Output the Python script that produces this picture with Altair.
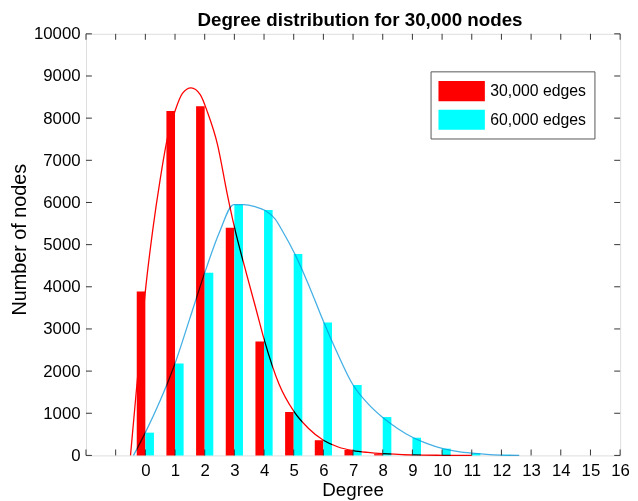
import altair as alt
import pandas as pd

# ---- data ----
degrees_30k = list(range(0, 10))
counts_30k = [3890, 8170, 8280, 5400, 2700, 1030, 360, 130, 30, 5]
degrees_60k = list(range(0, 13))
counts_60k = [540, 2180, 4330, 5950, 5820, 4780, 3150, 1670, 910, 420, 160, 50, 15]

fit30_x = [-0.5, -0.25, 0, 0.25, 0.5, 0.75, 1.0, 1.25, 1.54, 1.85, 2.1, 2.43, 2.76, 3.0,
           3.4, 3.7, 4.0, 4.5, 5.0, 5.5, 6.0, 6.5, 7.0, 7.5, 8.0, 9.0, 10.0, 11.0]
fit30_y = [0, 1950, 3890, 5350, 6550, 7550, 8170, 8590, 8720, 8560, 8130, 7380, 6200, 5420,
           4330, 3550, 2760, 1700, 1050, 640, 360, 200, 115, 70, 40, 12, 3, 0]

fit60_x = [-0.4, 0, 0.5, 1.0, 1.5, 2.0, 2.5, 2.98, 3.32, 3.7, 4.04, 4.37, 4.64, 5.03, 5.5,
           6.0, 6.5, 7.0, 7.5, 8.0, 8.5, 9.0, 9.5, 10.0, 10.5, 11.0, 11.5, 12.0, 12.6]
fit60_y = [0, 540, 1300, 2180, 3250, 4330, 5300, 5950, 5950, 5900, 5808, 5610, 5300, 4790, 4050,
           3180, 2380, 1670, 1230, 900, 640, 430, 280, 165, 95, 52, 25, 8, 0]

series_names = ["30,000 edges", "60,000 edges"]
series_colors = ["#ff0000", "#00ffff"]

x_ticks = list(range(-2, 17))
y_ticks = list(range(0, 10001, 1000))

# ---- tables ----
bars = pd.DataFrame({
    "degree": degrees_30k + degrees_60k,
    "count": counts_30k + counts_60k,
    "series": [series_names[0]] * len(degrees_30k) + [series_names[1]] * len(degrees_60k),
})
fit30 = pd.DataFrame({"degree": fit30_x, "count": fit30_y})
fit60 = pd.DataFrame({"degree": fit60_x, "count": fit60_y})
xt = pd.DataFrame({"t": x_ticks})
yt = pd.DataFrame({"t": y_ticks})

W, H = 541, 427
FONT = "Liberation Sans"

x_scale = alt.Scale(domain=[-2, 16], nice=False, zero=False)
y_scale = alt.Scale(domain=[0, 10000], nice=False)

x_axis = alt.Axis(values=x_ticks, format="d", labelExpr="datum.value < 0 ? '' : datum.label",
                  ticks=False, domain=False, grid=False, labelPadding=20, labelBaseline="alphabetic",
                  labelFontSize=17, labelFont=FONT, labelColor="black", labelFlush=False,
                  title="Degree", titleFontSize=19, titleFont=FONT, titleFontWeight="normal",
                  titleColor="black", titleBaseline="alphabetic", titleY=40.5, titleX=270)
y_axis = alt.Axis(values=y_ticks, format="d", ticks=False, domain=False, grid=False,
                  labelPadding=6, labelFontSize=17, labelFont=FONT, labelColor="black",
                  labelFlush=False,
                  title="Number of nodes", titleFontSize=20, titleFont=FONT,
                  titleFontWeight="normal", titleColor="black", titleBaseline="alphabetic",
                  titleX=-61, titleY=208, titleAngle=270)

X = alt.X("degree:Q", scale=x_scale, axis=x_axis)
Y = alt.Y("count:Q", scale=y_scale, axis=y_axis)

bar_layer = alt.Chart(bars).transform_calculate(
    x0=f"datum.series == '{series_names[0]}' ? datum.degree - 0.29 : datum.degree",
    x1=f"datum.series == '{series_names[0]}' ? datum.degree : datum.degree + 0.29",
).mark_bar().encode(
    x=alt.X("x0:Q", scale=x_scale, axis=x_axis),
    x2="x1:Q",
    y=Y,
    y2=alt.datum(0),
    color=alt.Color("series:N", scale=alt.Scale(domain=series_names, range=series_colors),
                    legend=alt.Legend(title=None, orient="none", legendX=349, legendY=38,
                                      symbolType="M-2,-0.87H2V0.87H-2Z", symbolSize=552,
                                      symbolStrokeWidth=0, symbolOffset=11.5, labelOffset=17,
                                      labelFontSize=16, labelFont=FONT, labelColor="black",
                                      padding=8, strokeColor="#555555", fillColor="white",
                                      rowPadding=6)),
)

line30 = alt.Chart(fit30).mark_line(color="#ff0000", strokeWidth=1.3, interpolate="monotone",
                                    blend="multiply").encode(x=X, y=Y)
line60 = alt.Chart(fit60).mark_line(color="#45b0e5", strokeWidth=1.3, interpolate="monotone",
                                    blend="multiply").encode(x=X, y=Y)

TICK = "#333333"
tb = alt.Chart(xt).mark_rule(color=TICK, strokeWidth=1).encode(
    x=alt.X("t:Q", scale=x_scale, axis=x_axis), y=alt.value(H), y2=alt.value(H - 6))
tt = alt.Chart(xt).mark_rule(color=TICK, strokeWidth=1).encode(
    x=alt.X("t:Q", scale=x_scale, axis=x_axis), y=alt.value(0), y2=alt.value(6))
tl = alt.Chart(yt).mark_rule(color=TICK, strokeWidth=1).encode(
    y=alt.Y("t:Q", scale=y_scale, axis=y_axis), x=alt.value(0), x2=alt.value(6))
tr = alt.Chart(yt).mark_rule(color=TICK, strokeWidth=1).encode(
    y=alt.Y("t:Q", scale=y_scale, axis=y_axis), x=alt.value(W), x2=alt.value(W - 6))

chart = alt.layer(bar_layer, line30, line60, tb, tt, tl, tr).properties(
    width=W, height=H,
    title=alt.TitleParams("Degree distribution for 30,000 nodes", fontSize=19, font=FONT,
                          fontWeight="bold", color="black", anchor="middle", offset=1,
                          baseline="bottom", dy=25, dx=7),
    autosize=alt.AutoSizeParams(type="none"),
    padding={"left": 79, "top": 23, "right": 10, "bottom": 43},
).configure_view(stroke="#333333", strokeWidth=1).configure(background="white")

chart.save("out.html", embed_options={"renderer": "svg", "actions": False})
